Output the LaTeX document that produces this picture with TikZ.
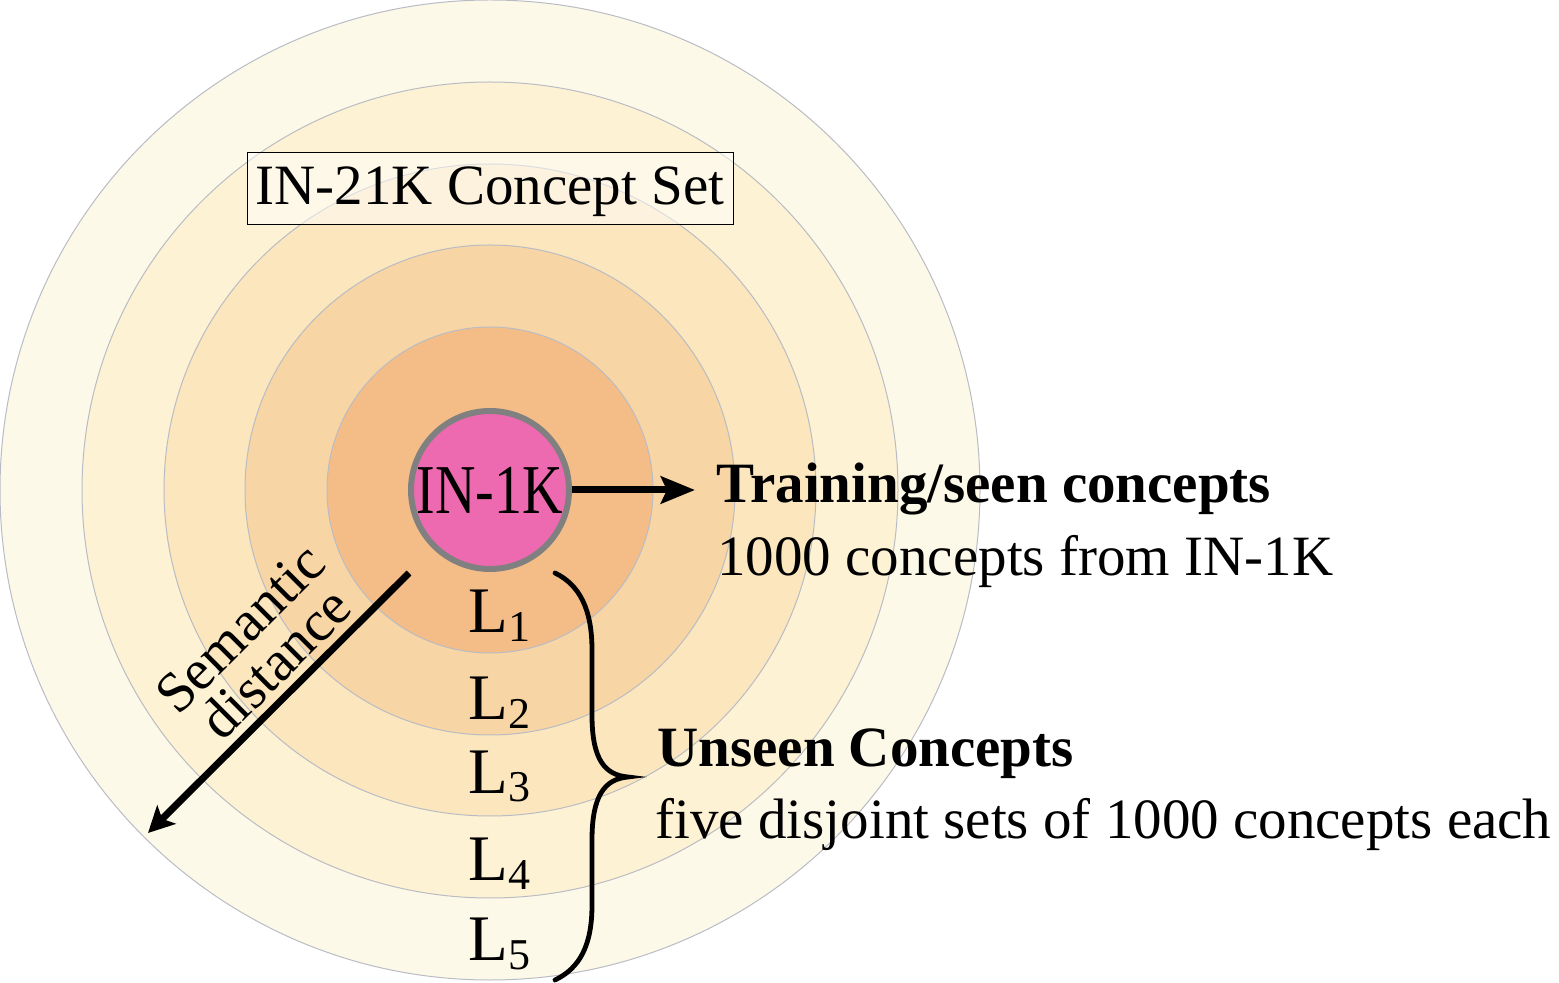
\documentclass[tikz,border=0pt]{standalone}
\usepackage{fontspec}
\usepackage{graphicx}
\setmainfont{Liberation Serif}
\usetikzlibrary{arrows.meta}
\definecolor{ringA}{HTML}{FDF9E8}
\definecolor{ringB}{HTML}{FDF2D3}
\definecolor{ringC}{HTML}{FBE6BD}
\definecolor{ringD}{HTML}{F8D5A5}
\definecolor{ringE}{HTML}{F4BD88}
\definecolor{ringline}{HTML}{B9BCC4}
\definecolor{inkfill}{HTML}{EE6AB0}
\definecolor{inkline}{HTML}{808080}
\newcommand\Lsubidx[1]{\raisebox{-4.5pt}{\fontsize{22}{24}\selectfont #1}}
\begin{document}
\begin{tikzpicture}[x=0.5pt,y=-0.5pt,
  ring/.style={circle, draw=ringline, line width=0.5pt, inner sep=0pt},
  txt/.style={font=\fontsize{28.5}{34}\selectfont, inner sep=0pt, anchor=base west},
  btxt/.style={font=\fontsize{28.5}{34}\selectfont\bfseries, inner sep=0pt, anchor=base west},
  lvl/.style={font=\fontsize{32.5}{34}\selectfont, inner sep=0pt, anchor=base west},
  bigarrow/.style={line width=3.5pt, -{Stealth[length=17pt,width=13.5pt,inset=3pt]}},
  diagarrow/.style={line width=3.5pt, -{Stealth[length=13pt,width=13pt,inset=3pt]}},
  bracestyle/.style={line width=2.4pt, line cap=round}
]
\useasboundingbox (0,0) rectangle (1559,983);
% rings
\node[ring, fill=ringA, minimum size=490pt] (r5) at (490,490) {};
\node[ring, fill=ringB, minimum size=408pt] (r4) at (490,490) {};
\node[ring, fill=ringC, minimum size=326pt] (r3) at (490,490) {};
\node[ring, fill=ringD, minimum size=245pt] (r2) at (490,490) {};
\node[ring, fill=ringE, minimum size=163pt] (r1) at (490,490) {};
% IN-1K
\node[circle, draw=inkline, line width=3pt, fill=inkfill, minimum size=79pt, inner sep=0pt,
      font=\fontsize{28}{34}\selectfont] (in1k) at (490,490) {\scalebox{1}[1.25]{IN-1K}};
% title
\node[draw=black, line width=0.5pt, fill=white, fill opacity=0.5, text opacity=1,
      minimum width=243pt, minimum height=36pt, inner sep=0pt, text height=20pt, text depth=4pt,
      font=\fontsize{28.5}{34}\selectfont] (title) at (490,189) {IN-21K Concept Set};
% training arrow
\coordinate (trainTip) at (695,490);
\draw[bigarrow] (in1k.east) -- (trainTip);
\node[btxt] (training) at (716,503) {Training/seen concepts};
\node[txt] (trainingsub) at (717,576) {1000 concepts from IN-1K};
% semantic distance
\coordinate (semStart) at (409,573);
\coordinate (semEnd) at (148,833);
\draw[diagarrow] (semStart) -- (semEnd);
\node[font=\fontsize{28.5}{25}\selectfont, align=center, rotate=45, inner sep=0pt] (semantic) at (258,646) {Semantic\\distance};
% levels
\node[lvl] (l1) at (468,633) {L\Lsubidx{1}};
\node[lvl] (l2) at (468,720) {L\Lsubidx{2}};
\node[lvl] (l3) at (468,793) {L\Lsubidx{3}};
\node[lvl] (l4) at (468,880) {L\Lsubidx{4}};
\node[lvl] (l5) at (468,960) {L\Lsubidx{5}};
% brace
\coordinate (braceTop) at (555,573);
\coordinate (braceTip) at (628,777);
\coordinate (braceBot) at (555,980);
\draw[bracestyle] (braceTop) .. controls (580,585) and (592,610) .. (592,650) -- (592,715)
   .. controls (592,760) and (605,775) .. (braceTip)
   .. controls (605,779) and (592,795) .. (592,840) -- (592,905)
   .. controls (592,945) and (580,968) .. (braceBot);
\node[btxt] (unseen) at (657,767) {Unseen Concepts};
\node[txt] (unseensub) at (655,838) {five disjoint sets of 1000 concepts each};
\end{tikzpicture}
\end{document}
